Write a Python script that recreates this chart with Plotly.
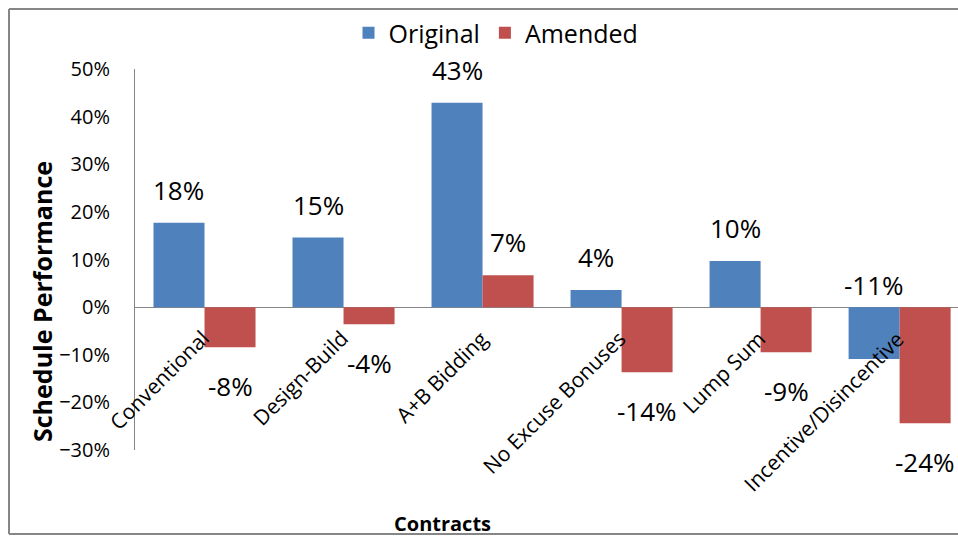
import plotly.graph_objects as go

categories = ["Conventional", "Design-Build", "A+B Bidding", "No Excuse Bonuses",
              "Lump Sum", "Incentive/Disincentive"]
original = [0.177, 0.146, 0.429, 0.036, 0.097, -0.109]
amended = [-0.084, -0.036, 0.067, -0.137, -0.095, -0.244]
original_labels = ["18%", "15%", "43%", "4%", "10%", "-11%"]
amended_labels = ["-8%", "-4%", "7%", "-14%", "-9%", "-24%"]
y_ticks = [-0.3, -0.2, -0.1, 0.0, 0.1, 0.2, 0.3, 0.4, 0.5]

BLUE = "#4F81BD"
RED = "#C0504D"
GRAY = "#868686"
FONT = "Open Sans"

W, H = 958, 537
ML, MR, MT = 135, 0, 69
MB = H - 450
x_range = [-0.5, 5.42]
bargap = 0.266
plot_w = W - ML - MR
plot_h = H - MT - MB
px_per_cat = plot_w / (x_range[1] - x_range[0])
bar_px = px_per_cat * (1 - bargap) / 2


def px_x(x):
    return (x - ML) / plot_w


def px_y(y):
    return (H - MB - y) / plot_h


fig = go.Figure()
fig.add_trace(go.Bar(name="Original", x=categories, y=original, marker_color=BLUE,
                     marker_line_width=0))
fig.add_trace(go.Bar(name="Amended", x=categories, y=amended, marker_color=RED,
                     marker_line_width=0))

annotations = []
# data labels
for series, labels, sign in ((original, original_labels, -1), (amended, amended_labels, 1)):
    for c, v, t in zip(categories, series, labels):
        if series is original and v < 0:
            y, ys = 0, 22
        elif v >= 0:
            y, ys = v, 33
        else:
            y, ys = v, -39
        annotations.append(dict(x=c, y=y, xref="x", yref="y", text=t, showarrow=False,
                                xanchor="center", yanchor="middle",
                                xshift=sign * bar_px / 2, yshift=ys,
                                font=dict(family=FONT, size=26, color="#000000")))
# category labels next to the zero line
for c in categories:
    annotations.append(dict(x=c, y=0, xref="x", yref="y", text=c, showarrow=False,
                            textangle=-45, xanchor="right", yanchor="top",
                            xshift=13, yshift=-15,
                            font=dict(family=FONT, size=21, color="#000000")))
# axis titles
annotations.append(dict(x=px_x(42), y=px_y(302),
                        xref="paper", yref="paper", text="<b>Schedule Performance</b>",
                        textangle=-90, showarrow=False, xanchor="center", yanchor="middle",
                        font=dict(family=FONT, size=25, color="#000000")))
annotations.append(dict(x=px_x(442), y=px_y(523),
                        xref="paper", yref="paper", text="<b>Contracts</b>",
                        showarrow=False, xanchor="center", yanchor="middle",
                        font=dict(family=FONT, size=20, color="#000000")))

# chart border (the right side lies beyond the visible area)
border = dict(color=GRAY, width=2)
bx0, bx1, by0, by1 = px_x(9), px_x(1000), px_y(534), px_y(9)
shapes = [
    dict(type="line", xref="paper", yref="paper", x0=bx0, x1=bx1, y0=by1, y1=by1,
         line=border, layer="below"),
    dict(type="line", xref="paper", yref="paper", x0=bx0, x1=bx1, y0=by0, y1=by0,
         line=border, layer="below"),
    dict(type="line", xref="paper", yref="paper", x0=bx0, x1=bx0, y0=by0, y1=by1,
         line=border, layer="below"),
]

fig.update_layout(
    width=W, height=H,
    margin=dict(l=ML, r=MR, t=MT, b=MB, pad=0),
    paper_bgcolor="white", plot_bgcolor="white",
    barmode="group", bargap=bargap, bargroupgap=0,
    font=dict(family=FONT, color="#000000"),
    legend=dict(orientation="h", x=px_x(496), xanchor="center",
                y=px_y(33), yanchor="middle",
                font=dict(family=FONT, size=25, color="#000000"),
                bgcolor="rgba(0,0,0,0)", itemwidth=30, tracegroupgap=0),
    annotations=annotations,
    shapes=shapes,
    xaxis=dict(range=x_range, showticklabels=False, showline=False, showgrid=False,
               zeroline=False, ticks=""),
    yaxis=dict(range=[-0.3, 0.5], tickvals=y_ticks, tickformat=".0%",
               showgrid=False, zeroline=True, zerolinecolor=GRAY, zerolinewidth=1,
               showline=True, linecolor=GRAY, linewidth=1, ticks="",
               ticklabelstandoff=20,
               tickfont=dict(family=FONT, size=20, color="#000000")),
)

fig.write_html("out.html",
               config={"displayModeBar": False},
               post_script="document.body.style.margin='0';"
                           "document.body.style.overflow='hidden';")
